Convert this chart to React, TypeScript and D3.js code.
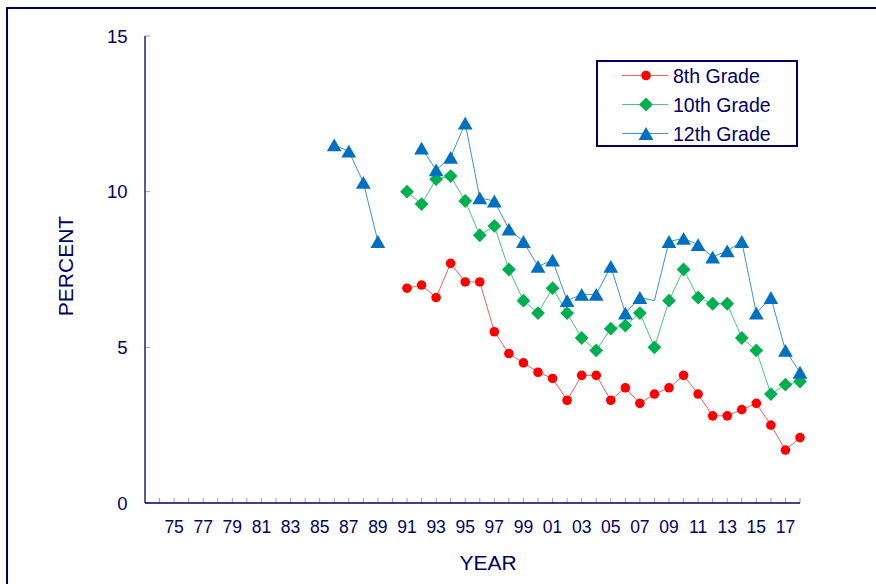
import React from "react";
import * as d3 from "d3";

const years: number[] = d3.range(1986, 2019);
// values per year 1986..2018 (null = no data)
const grade8: (number | null)[] = [
  null, null, null, null, null,
  6.9, 7.0, 6.6, 7.7, 7.1, 7.1, 5.5, 4.8, 4.5, 4.2, 4.0, 3.3, 4.1, 4.1, 3.3,
  3.7, 3.2, 3.5, 3.7, 4.1, 3.5, 2.8, 2.8, 3.0, 3.2, 2.5, 1.7, 2.1,
];
const grade10: (number | null)[] = [
  null, null, null, null, null,
  10.0, 9.6, 10.4, 10.5, 9.7, 8.6, 8.9, 7.5, 6.5, 6.1, 6.9, 6.1, 5.3, 4.9, 5.6,
  5.7, 6.1, 5.0, 6.5, 7.5, 6.6, 6.4, 6.4, 5.3, 4.9, 3.5, 3.8, 3.9,
];
const grade12: (number | null)[] = [
  11.5, 11.3, 10.3, 8.4, null,
  null, 11.4, 10.7, 11.1, 12.2, 9.8, 9.7, 8.8, 8.4, 7.6, 7.8, 6.5, 6.7, 6.7, 7.6,
  6.1, 6.6, 6.5, 8.4, 8.5, 8.3, 7.9, 8.1, 8.4, 6.1, 6.6, 4.9, 4.2,
];
const noMarker12: number[] = [2008];
const seriesNames: string[] = ["8th Grade", "10th Grade", "12th Grade"];
const yTicks: number[] = [0, 5, 10, 15];
const tickYears: number[] = d3.range(1974, 2019);
const labelYears: number[] = d3.range(1975, 2018, 2);

const NAVY = "#000066";
const TICK = "#9a9ac8";
const FONT = "'Liberation Sans', Arial, sans-serif";

type Series = {
  name: string;
  values: (number | null)[];
  marker: "circle" | "diamond" | "triangle";
  fill: string;
  line: string;
  skip: number[];
};

const series: Series[] = [
  { name: seriesNames[0], values: grade8, marker: "circle", fill: "#ff0000", line: "#ff5a5a", skip: [] },
  { name: seriesNames[1], values: grade10, marker: "diamond", fill: "#00b050", line: "#4cc47c", skip: [] },
  { name: seriesNames[2], values: grade12, marker: "triangle", fill: "#0070c0", line: "#3d8fd6", skip: noMarker12 },
];

function Marker({ kind, x, y, color }: { kind: string; x: number; y: number; color: string }) {
  if (kind === "circle") return <circle cx={x} cy={y} r={4.8} fill={color} />;
  if (kind === "diamond") {
    const r = 6.9;
    return <path d={`M${x},${y - r}L${x + r},${y}L${x},${y + r}L${x - r},${y}Z`} fill={color} />;
  }
  const h = 6.4, w = 7.4;
  return <path d={`M${x},${y - h}L${x + w},${y + h}L${x - w},${y + h}Z`} fill={color} />;
}

export default function App() {
  const x = d3.scaleLinear().domain([1973, 2018]).range([145, 800]);
  const y = d3.scaleLinear().domain([0, 15]).range([503, 36]);

  const line = d3
    .line<[number, number | null]>()
    .defined((d) => d[1] != null)
    .x((d) => x(d[0]))
    .y((d) => y(d[1] as number));

  const legendX = 597, legendY = 61;
  const rowY = [75.5, 104.5, 133.5];

  return (
    <svg
      width={876}
      height={584}
      style={{ position: "absolute", left: 0, top: 0, background: "#fff" }}
      fontFamily={FONT}
    >
      <rect x={0} y={0} width={876} height={584} fill="#fff" />
      <rect x={7} y={8} width={900} height={600} fill="none" stroke={NAVY} strokeWidth={2} />

      {/* y ticks */}
      {yTicks.map((t) => (
        <g key={"y" + t}>
          <line x1={145} x2={150} y1={y(t)} y2={y(t)} stroke={TICK} strokeWidth={1} />
          <text x={127.5} y={y(t)} dy="0.36em" textAnchor="end" fontSize={18.5} fill={NAVY}>
            {t}
          </text>
        </g>
      ))}
      {/* x ticks */}
      {tickYears.map((yr) => (
        <line key={"xt" + yr} x1={x(yr)} x2={x(yr)} y1={503} y2={498} stroke={TICK} strokeWidth={1} />
      ))}
      {labelYears.map((yr) => (
        <text key={"xl" + yr} x={x(yr)} y={533} textAnchor="middle" fontSize={17.5} fill={NAVY}>
          {String(yr % 100).padStart(2, "0")}
        </text>
      ))}
      {/* axes */}
      <line x1={145} x2={145} y1={36} y2={503} stroke={NAVY} strokeWidth={1.3} />
      <line x1={145} x2={800} y1={503} y2={503} stroke={NAVY} strokeWidth={1.3} />

      <text x={488} y={570} textAnchor="middle" fontSize={21} fill={NAVY}>
        YEAR
      </text>
      <text
        transform={`translate(73,266) rotate(-90)`}
        textAnchor="middle"
        fontSize={21}
        fill={NAVY}
      >
        PERCENT
      </text>

      {/* series */}
      {series.map((s) => {
        const pts: [number, number | null][] = years.map((yr, i) => [yr, s.values[i]]);
        return (
          <g key={s.name}>
            <path d={line(pts) || ""} fill="none" stroke={s.line} strokeWidth={1} />
            {pts
              .filter((p) => p[1] != null && !s.skip.includes(p[0]))
              .map((p) => (
                <Marker key={p[0]} kind={s.marker} x={x(p[0])} y={y(p[1] as number)} color={s.fill} />
              ))}
          </g>
        );
      })}

      {/* legend */}
      <rect x={legendX} y={legendY} width={200} height={85} fill="#fff" stroke={NAVY} strokeWidth={2} />
      {series.map((s, i) => (
        <g key={"lg" + s.name}>
          <line x1={622} x2={668} y1={rowY[i]} y2={rowY[i]} stroke={s.line} strokeWidth={1} />
          <Marker kind={s.marker} x={646} y={rowY[i]} color={s.fill} />
          <text x={673} y={rowY[i]} dy="0.36em" fontSize={19.5} fill={NAVY}>
            {s.name}
          </text>
        </g>
      ))}
    </svg>
  );
}
